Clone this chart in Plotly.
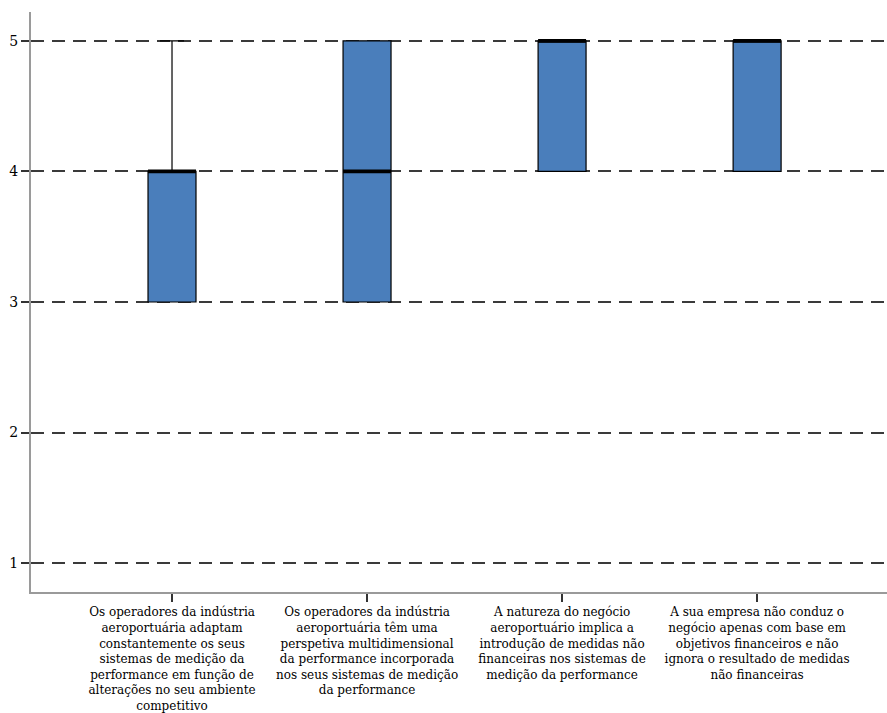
import plotly.graph_objects as go

# Likert-scale responses (1-5), summarised per statement
positions = [0, 1, 2, 3]
categories = [
    "Os operadores da indústria<br>aeroportuária adaptam<br>constantemente os seus<br>sistemas de medição da<br>performance em função de<br>alterações no seu ambiente<br>competitivo",
    "Os operadores da indústria<br>aeroportuária têm uma<br>perspetiva multidimensional<br>da performance incorporada<br>nos seus sistemas de medição<br>da performance",
    "A natureza do negócio<br>aeroportuário implica a<br>introdução de medidas não<br>financeiras nos sistemas de<br>medição da performance",
    "A sua empresa não conduz o<br>negócio apenas com base em<br>objetivos financeiros e não<br>ignora o resultado de medidas<br>não financeiras",
]
lower_whisker = [3, 3, 4, 4]
q1 = [3, 3, 4, 4]
median = [4, 4, 5, 5]
q3 = [4, 5, 5, 5]
upper_whisker = [5, 5, 5, 5]
y_ticks = [1, 2, 3, 4, 5]

BOX_WIDTH = 0.246
FONT = "DejaVu Serif"

fig = go.Figure()

fig.add_trace(go.Box(
    x=positions,
    q1=q1,
    median=median,
    q3=q3,
    lowerfence=lower_whisker,
    upperfence=upper_whisker,
    width=BOX_WIDTH,
    whiskerwidth=0.5,
    fillcolor="#4a7ebb",
    line=dict(color="black", width=1.2),
    boxpoints=False,
    hoverinfo="skip",
    showlegend=False,
))

# Heavy median bars drawn on top of each box
mx, my = [], []
for p, m in zip(positions, median):
    mx += [p - BOX_WIDTH / 2, p + BOX_WIDTH / 2, None]
    my += [m, m, None]
fig.add_trace(go.Scatter(
    x=mx, y=my, mode="lines",
    line=dict(color="black", width=3.8),
    hoverinfo="skip", showlegend=False,
))

fig.update_layout(
    width=887,
    height=713,
    margin=dict(l=31, r=0, t=12, b=119),
    plot_bgcolor="white",
    paper_bgcolor="white",
    font=dict(family=FONT, size=12, color="black"),
)

fig.update_xaxes(
    range=[-0.723, 3.666],
    tickmode="array",
    tickvals=positions,
    ticktext=categories,
    showgrid=False,
    zeroline=False,
    showline=True,
    linecolor="#9a9a9a",
    linewidth=2,
    ticks="outside",
    ticklen=8,
    tickwidth=1.5,
    tickcolor="#333333",
    tickfont=dict(family=FONT, size=12, color="black"),
    fixedrange=True,
)

fig.update_yaxes(
    range=[0.779, 5.221],
    tickmode="array",
    tickvals=y_ticks,
    ticktext=[str(v) for v in y_ticks],
    showgrid=True,
    gridcolor="#3a3a3a",
    gridwidth=1.5,
    griddash="13px,8px",
    zeroline=False,
    showline=True,
    linecolor="#9a9a9a",
    linewidth=2,
    ticks="outside",
    ticklen=8,
    tickwidth=1.5,
    tickcolor="#333333",
    tickfont=dict(family=FONT, size=14, color="black"),
    fixedrange=True,
)

fig.write_html("out.html")
